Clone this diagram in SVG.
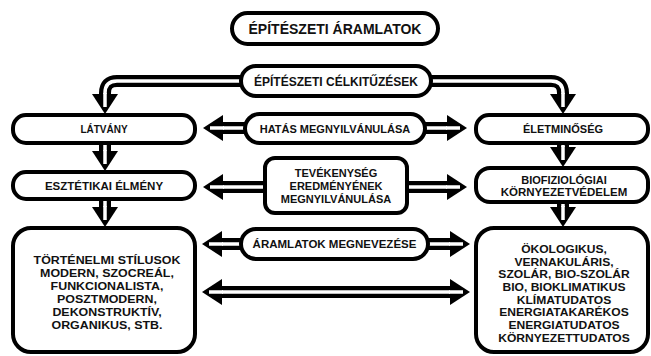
<svg xmlns="http://www.w3.org/2000/svg" xmlns:xlink="http://www.w3.org/1999/xlink" width="651" height="356" viewBox="0 0 651 356">
<style>
.box{fill:#fff;stroke:#000;stroke-width:4}
.ol{fill:none;stroke:#000;stroke-width:12}
.il{fill:none;stroke:#fff;stroke-width:3.5}
text{font-family:"Liberation Sans",Arial,sans-serif;font-weight:bold;fill:#111;text-anchor:middle}
.t10{font-size:10px}
.t105{font-size:10.5px}
.t11{font-size:11px}
.t115{font-size:11.5px}
.t12{font-size:12px}
.t14{font-size:14px}
</style>
<defs>
<g id="head">
<polygon points="-20,-13 0,0 -20,13" fill="#000"/>
<line x1="-21" y1="0" x2="-7" y2="0" stroke="#fff" stroke-width="3.5"/>
</g>
</defs>
<rect width="651" height="356" fill="#fff"/>
<g id="connectors">
<path class="ol" d="M105,96 V93 Q105,81 117,81 H551 Q563,81 563,93 V96"/>
<path class="il" d="M105,97 V93 Q105,81 117,81 H551 Q563,81 563,93 V97"/>
<use xlink:href="#head" transform="translate(105,114) rotate(90)"/>
<use xlink:href="#head" transform="translate(563,114) rotate(90)"/>
<path class="ol" d="M105,145 V158"/>
<path class="il" d="M105,145 V159"/>
<use xlink:href="#head" transform="translate(105,171) rotate(90)"/>
<path class="ol" d="M105,201 V211"/>
<path class="il" d="M105,201 V212"/>
<use xlink:href="#head" transform="translate(105,227) rotate(90)"/>
<path class="ol" d="M563,145 V152"/>
<path class="il" d="M563,145 V153"/>
<use xlink:href="#head" transform="translate(563,167) rotate(90)"/>
<path class="ol" d="M563,204 V211"/>
<path class="il" d="M563,204 V212"/>
<use xlink:href="#head" transform="translate(563,227) rotate(90)"/>
<path class="ol" d="M222,128 H448"/>
<path class="il" d="M221,128 H449"/>
<use xlink:href="#head" transform="translate(203,128) rotate(180)"/>
<use xlink:href="#head" transform="translate(467,128)"/>
<path class="ol" d="M222,187 H448"/>
<path class="il" d="M221,187 H449"/>
<use xlink:href="#head" transform="translate(203,187) rotate(180)"/>
<use xlink:href="#head" transform="translate(467,187)"/>
<path class="ol" d="M221,244 H451"/>
<path class="il" d="M220,244 H452"/>
<use xlink:href="#head" transform="translate(202,244) rotate(180)"/>
<use xlink:href="#head" transform="translate(470,244)"/>
<path class="ol" d="M221,292 H451"/>
<path class="il" d="M220,292 H452"/>
<use xlink:href="#head" transform="translate(202,292) rotate(180)"/>
<use xlink:href="#head" transform="translate(470,292)"/>
</g>
<g id="n-aramlatok">
<rect class="box" x="232" y="13" width="206" height="31" rx="15.5"/>
<text class="t14" x="335" y="34">ÉPÍTÉSZETI ÁRAMLATOK</text>
</g>
<g id="n-celkituzesek">
<rect class="box" x="241" y="66" width="190" height="30" rx="15"/>
<text class="t12" x="336" y="85.5">ÉPÍTÉSZETI CÉLKITŰZÉSEK</text>
</g>
<g id="n-latvany">
<rect class="box" x="13" y="115" width="182" height="28" rx="13"/>
<text class="t10" x="104" y="132.5">LÁTVÁNY</text>
</g>
<g id="n-esztetikai">
<rect class="box" x="13" y="172" width="182" height="27" rx="13"/>
<text class="t115" x="104" y="189.5">ESZTÉTIKAI ÉLMÉNY</text>
</g>
<g id="n-tortenelmi">
<rect class="box" x="13" y="228" width="182" height="124" rx="18"/>
<g transform="translate(107,0) scale(1.13,1)">
<text class="t11" x="0" y="264">TÖRTÉNELMI STÍLUSOK</text>
<text class="t11" x="0" y="277">MODERN, SZOCREÁL,</text>
<text class="t11" x="0" y="290">FUNKCIONALISTA,</text>
<text class="t11" x="0" y="303">POSZTMODERN,</text>
<text class="t11" x="0" y="316">DEKONSTRUKTÍV,</text>
<text class="t11" x="0" y="329">ORGANIKUS, STB.</text>
</g>
</g>
<g id="n-hatas">
<rect class="box" x="245" y="114" width="180" height="29" rx="14.5"/>
<text class="t11" x="335" y="132.5">HATÁS MEGNYILVÁNULÁSA</text>
</g>
<g id="n-tevekenyseg">
<rect class="box" x="265" y="158" width="142" height="55" rx="10"/>
<text class="t11" x="336" y="177">TEVÉKENYSÉG</text>
<text class="t11" x="336" y="190">EREDMÉNYÉNEK</text>
<text class="t11" x="336" y="203">MEGNYILVÁNULÁSA</text>
</g>
<g id="n-megnevezese">
<rect class="box" x="241" y="229" width="187" height="30" rx="15"/>
<text class="t115" x="334.5" y="248">ÁRAMLATOK MEGNEVEZÉSE</text>
</g>
<g id="n-eletminoseg">
<rect class="box" x="476" y="115" width="172" height="28" rx="13"/>
<text class="t11" x="563" y="133">ÉLETMINŐSÉG</text>
</g>
<g id="n-biofiziologiai">
<rect class="box" x="476" y="168" width="172" height="34" rx="14"/>
<text class="t11" x="564" y="184">BIOFIZIOLÓGIAI</text>
<text class="t115" x="564" y="196">KÖRNYEZETVÉDELEM</text>
</g>
<g id="n-okologikus">
<rect class="box" x="476" y="228" width="172" height="124" rx="18"/>
<g transform="translate(564,0) scale(1.15,1)">
<text class="t105" x="0" y="253">ÖKOLOGIKUS,</text>
<text class="t105" x="0" y="265.7">VERNAKULÁRIS,</text>
<text class="t105" x="0" y="278.4">SZOLÁR, BIO-SZOLÁR</text>
<text class="t105" x="0" y="291.1">BIO, BIOKLIMATIKUS</text>
<text class="t105" x="0" y="303.8">KLÍMATUDATOS</text>
<text class="t105" x="0" y="316.5">ENERGIATAKARÉKOS</text>
<text class="t105" x="0" y="329.2">ENERGIATUDATOS</text>
<text class="t105" x="0" y="342">KÖRNYEZETTUDATOS</text>
</g>
</g>
</svg>
